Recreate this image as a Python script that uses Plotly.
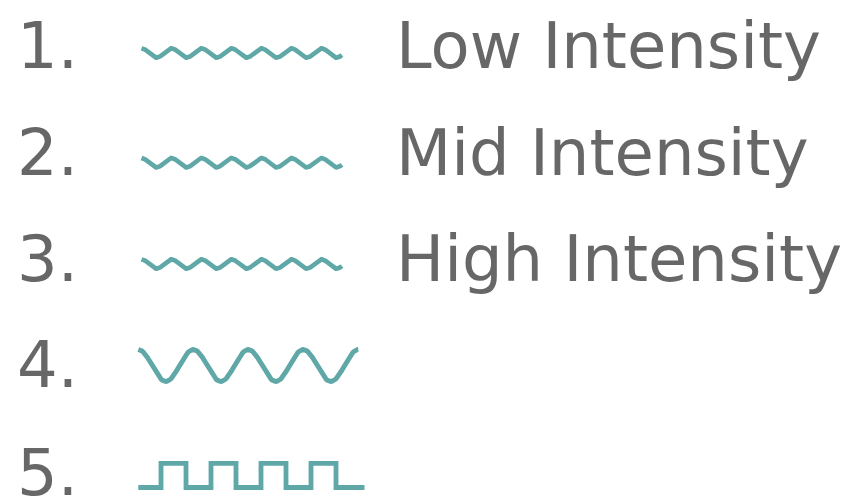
import numpy as np
import plotly.graph_objects as go

# ---- data ----
item_numbers = ["1.", "2.", "3.", "4.", "5."]
item_labels = ["Low Intensity", "Mid Intensity", "High Intensity", "", ""]
wave_kinds = ["sine", "sine", "sine", "sine", "square"]
wave_cycles = [6.68, 6.68, 6.68, 4, 4]

# ---- layout / style constants (pixel space of the 847x498 canvas) ----
W, H = 847, 498
TEXT_COLOR = "#676767"
WAVE_COLOR = "#5fa8a7"
FONT = "DejaVu Sans"
FONT_SIZE = 64
text_row_y = [52, 158.5, 265, 371, 478.5]
wave_row_y = [53, 162.7, 264, 365.5, 475.4]
number_x = 17
label_x = 396
wave_style = {
    "sine_small": dict(x0=141.5, period=30.0, amp=4.7, width=4.6),
    "sine_big": dict(x0=138.3, period=55.0, amp=16.0, width=4.9),
    "square": dict(x0=138.3, lead=22.7, period=50.0, high=25.0, amp=12.1,
                   tail=28.5, width=4.8),
}


def sine_path(kind_key, cycles, yc):
    s = wave_style[kind_key]
    t = np.linspace(0, cycles, int(cycles * 60) + 1)
    xs = s["x0"] + t * s["period"]
    ys = yc - s["amp"] * np.cos(2 * np.pi * t)
    return xs, ys, s["width"]


def square_path(cycles, yc):
    s = wave_style["square"]
    lo, hi = yc + s["amp"], yc - s["amp"]
    xs, ys = [s["x0"]], [lo]
    x = s["x0"] + s["lead"]
    for k in range(int(cycles)):
        xr = x + k * s["period"]
        xs += [xr, xr, xr + s["high"], xr + s["high"]]
        ys += [lo, hi, hi, lo]
    xs.append(xs[-1] + s["tail"])
    ys.append(lo)
    return np.array(xs), np.array(ys), s["width"]


fig = go.Figure()

for i, kind in enumerate(wave_kinds):
    yc = wave_row_y[i]
    if kind == "square":
        xs, ys, w = square_path(wave_cycles[i], yc)
    else:
        key = "sine_big" if wave_cycles[i] < 5 else "sine_small"
        xs, ys, w = sine_path(key, wave_cycles[i], yc)
    fig.add_trace(go.Scatter(
        x=xs, y=ys, mode="lines",
        line=dict(color=WAVE_COLOR, width=w, shape="linear"),
        hoverinfo="skip", showlegend=False,
    ))

fig.add_trace(go.Scatter(
    x=[number_x] * len(item_numbers), y=text_row_y,
    mode="text", text=item_numbers, textposition="middle right",
    textfont=dict(family=FONT, size=FONT_SIZE, color=TEXT_COLOR),
    hoverinfo="skip", showlegend=False, cliponaxis=False,
))

lab_idx = [i for i, t in enumerate(item_labels) if t]
fig.add_trace(go.Scatter(
    x=[label_x] * len(lab_idx), y=[text_row_y[i] for i in lab_idx],
    mode="text", text=[item_labels[i] for i in lab_idx],
    textposition="middle right",
    textfont=dict(family=FONT, size=FONT_SIZE, color=TEXT_COLOR),
    hoverinfo="skip", showlegend=False, cliponaxis=False,
))

fig.update_layout(
    width=W, height=H,
    margin=dict(l=0, r=0, t=0, b=0),
    paper_bgcolor="white", plot_bgcolor="white",
    xaxis=dict(range=[0, W], visible=False, fixedrange=True),
    yaxis=dict(range=[H, 0], visible=False, fixedrange=True),
    showlegend=False,
)

fig.write_html(
    "out.html",
    config={"displayModeBar": False},
    post_script="document.body.style.margin='0';document.body.style.overflow='hidden';",
)
